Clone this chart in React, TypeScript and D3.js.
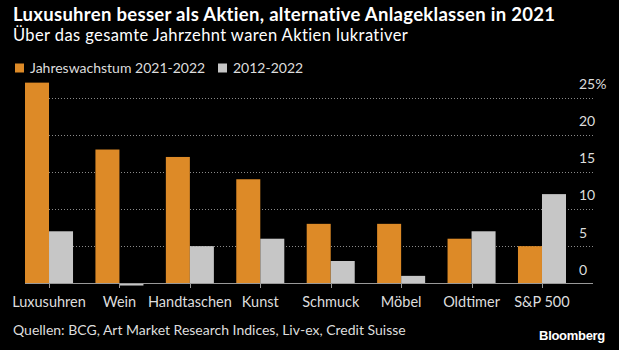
import React, { useEffect, useRef } from 'react';
import * as d3 from 'd3';

const categories = ['Luxusuhren', 'Wein', 'Handtaschen', 'Kunst', 'Schmuck', 'Möbel', 'Oldtimer', 'S&P 500'];
const growth2122 = [27, 18, 17, 14, 8, 8, 6, 5];
const growth1222 = [7, -0.3, 5, 6, 3, 1, 7, 12];
const seriesNames = ['Jahreswachstum 2021-2022', '2012-2022'];
const yTicks = [0, 5, 10, 15, 20, 25];

const W = 619;
const H = 350;
const FONT = 'Lato, "Noto Sans", sans-serif';
const ORANGE = '#dd8a27';
const GREY = '#c6c6c6';

const App: React.FC = () => {
  const ref = useRef<SVGSVGElement>(null);

  useEffect(() => {
    const svg = d3.select(ref.current);
    svg.selectAll('*').remove();

    const plotLeft = 25;
    const plotRight = 593;

    const x = d3
      .scaleBand<string>()
      .domain(categories)
      .range([plotLeft, 566])
      .paddingInner(0.318)
      .paddingOuter(0);

    const xSub = d3.scaleBand<number>().domain([0, 1]).range([0, x.bandwidth()]);

    const y = d3.scaleLinear().domain([0, 25]).range([283.3, 97.5]);

    svg.append('rect').attr('width', W).attr('height', H).attr('fill', '#000');

    // Title + subtitle
    svg
      .append('text')
      .attr('x', 13)
      .attr('y', 21)
      .attr('fill', '#fff')
      .attr('font-family', FONT)
      .attr('font-weight', 700)
      .attr('font-size', 18.5)
      .attr('letter-spacing', 0.3)
      .text('Luxusuhren besser als Aktien, alternative Anlageklassen in 2021');

    svg
      .append('text')
      .attr('x', 13)
      .attr('y', 41)
      .attr('fill', '#fff')
      .attr('font-family', FONT)
      .attr('font-size', 16.5)
      .attr('letter-spacing', 0.4)
      .text('Über das gesamte Jahrzehnt waren Aktien lukrativer');

    // Legend
    const legendX = [15, 218];
    seriesNames.forEach((name, i) => {
      svg
        .append('rect')
        .attr('x', legendX[i])
        .attr('y', 63.5)
        .attr('width', 9)
        .attr('height', 9)
        .attr('fill', i === 0 ? ORANGE : GREY);
      svg
        .append('text')
        .attr('x', legendX[i] + 15)
        .attr('y', 72.5)
        .attr('fill', '#ddd')
        .attr('font-family', FONT)
        .attr('font-size', 14)
        .text(name);
    });

    // Gridlines
    svg
      .append('g')
      .selectAll('line')
      .data(yTicks.filter((d) => d > 0))
      .join('line')
      .attr('x1', plotLeft)
      .attr('x2', plotRight)
      .attr('y1', (d) => Math.round(y(d)) + 0.5)
      .attr('y2', (d) => Math.round(y(d)) + 0.5)
      .attr('stroke', '#8a8a8a')
      .attr('stroke-dasharray', '1,2');

    // Y labels
    svg
      .append('g')
      .selectAll('text')
      .data(yTicks)
      .join('text')
      .attr('x', 579)
      .attr('y', (d) => y(d) - 8.5)
      .attr('fill', '#ddd')
      .attr('font-family', FONT)
      .attr('font-size', 14)
      .text((d) => (d === 25 ? `${d}%` : `${d}`));

    // Bars
    const groups = svg
      .append('g')
      .selectAll('g')
      .data(categories)
      .join('g')
      .attr('transform', (d) => `translate(${x(d)},0)`);

    groups
      .selectAll('rect')
      .data((_d, i) => [growth2122[i], growth1222[i]])
      .join('rect')
      .attr('x', (_d, j) => xSub(j)!)
      .attr('width', xSub.bandwidth())
      .attr('y', (d) => y(Math.max(0, d)))
      .attr('height', (d) => Math.max(1, Math.abs(y(d) - y(0))))
      .attr('fill', (_d, j) => (j === 0 ? ORANGE : GREY));

    // Baseline + ticks
    svg
      .append('line')
      .attr('x1', plotLeft)
      .attr('x2', plotRight)
      .attr('y1', 283.5)
      .attr('y2', 283.5)
      .attr('stroke', '#999');

    svg
      .append('g')
      .selectAll('line')
      .data(categories)
      .join('line')
      .attr('x1', (d) => Math.round(x(d)! + x.bandwidth() / 2) + 0.5)
      .attr('x2', (d) => Math.round(x(d)! + x.bandwidth() / 2) + 0.5)
      .attr('y1', 283)
      .attr('y2', 288)
      .attr('stroke', '#999');

    svg
      .append('g')
      .selectAll('text')
      .data(categories)
      .join('text')
      .attr('x', (d) => x(d)! + x.bandwidth() / 2)
      .attr('y', 307)
      .attr('text-anchor', 'middle')
      .attr('fill', '#ddd')
      .attr('font-family', FONT)
      .attr('font-size', 14.5)
      .text((d) => d);

    // Footer
    svg
      .append('text')
      .attr('x', 13)
      .attr('y', 335)
      .attr('fill', '#ddd')
      .attr('font-family', FONT)
      .attr('font-size', 14)
      .text('Quellen: BCG, Art Market Research Indices, Liv-ex, Credit Suisse');

    svg
      .append('text')
      .attr('x', 605)
      .attr('y', 340)
      .attr('text-anchor', 'end')
      .attr('fill', '#fff')
      .attr('font-family', '"Liberation Sans", Arial, sans-serif')
      .attr('font-weight', 700)
      .attr('font-size', 13)
      .attr('letter-spacing', -0.3)
      .text('Bloomberg');
  }, []);

  return (
    <svg
      ref={ref}
      width={W}
      height={H}
      style={{ position: 'absolute', left: 0, top: 0, display: 'block' }}
    />
  );
};

export default App;
